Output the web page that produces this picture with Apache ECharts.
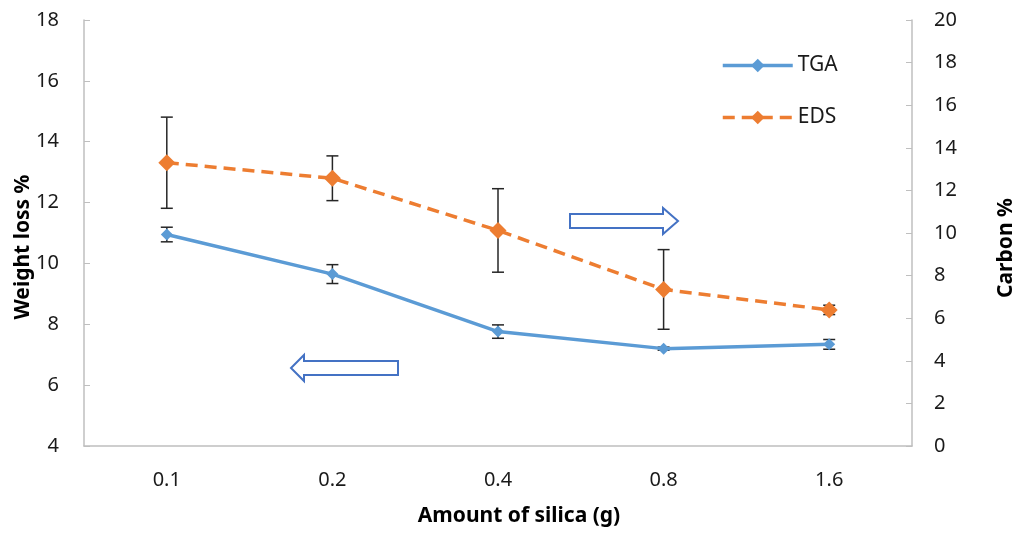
<!DOCTYPE html>
<html>
<head>
<meta charset="utf-8">
<script src="https://cdn.jsdelivr.net/npm/echarts@6/dist/echarts.min.js"></script>
<style>html,body{margin:0;padding:0;background:#fff}#c{width:1016px;height:533px}</style>
</head>
<body>
<div id="c"></div>
<script>
const categories = ['0.1', '0.2', '0.4', '0.8', '1.6'];
const tgaValues = [10.95, 9.65, 7.76, 7.2, 7.34];
const tgaErrors = [0.24, 0.31, 0.22, 0.05, 0.16];
const edsValues = [13.3, 12.57, 10.12, 7.35, 6.39];
const edsErrors = [2.14, 1.05, 1.96, 1.87, 0.22];
const leftTicks = { min: 4, max: 18, interval: 2 };
const rightTicks = { min: 0, max: 20, interval: 2 };

const FONT = 'Noto Sans';
const TXT = '#1a1a1a';
const chart = echarts.init(document.getElementById('c'));

function errorSeries(vals, errs, axisIdx, name) {
  return {
    type: 'custom',
    name: name,
    yAxisIndex: axisIdx,
    z: 1,
    silent: true,
    data: vals.map((v, i) => [i, v - errs[i], v + errs[i]]),
    renderItem: function (params, api) {
      const lo = api.coord([api.value(0), api.value(1)]);
      const hi = api.coord([api.value(0), api.value(2)]);
      const w = 6;
      const st = { stroke: '#262626', lineWidth: 1.5 };
      return {
        type: 'group',
        children: [
          { type: 'line', shape: { x1: lo[0], y1: lo[1], x2: hi[0], y2: hi[1] }, style: st },
          { type: 'line', shape: { x1: lo[0] - w, y1: lo[1], x2: lo[0] + w, y2: lo[1] }, style: st },
          { type: 'line', shape: { x1: hi[0] - w, y1: hi[1], x2: hi[0] + w, y2: hi[1] }, style: st }
        ]
      };
    }
  };
}

const arrowStyle = { fill: '#fff', stroke: '#4472C4', lineWidth: 2 };

chart.setOption({
  animation: false,
  backgroundColor: '#fff',
  textStyle: { fontFamily: FONT },
  grid: { left: 84, right: 104, top: 20, bottom: 87, outerBoundsMode: 'none', containLabel: false },
  legend: {
    orient: 'vertical',
    left: 716,
    top: 50,
    itemWidth: 70,
    itemHeight: 17,
    itemGap: 31,
    lineStyle: { width: 3.5 },
    textStyle: { fontFamily: FONT, fontSize: 21, color: TXT, padding: [0, 0, 0, 0] },
    data: ['TGA', 'EDS']
  },
  xAxis: {
    type: 'category',
    data: categories,
    boundaryGap: true,
    name: 'Amount of silica (g)',
    nameLocation: 'middle',
    nameGap: 60,
    nameTextStyle: { fontFamily: FONT, fontSize: 21, fontWeight: 'bold', color: '#000', padding: [0, 0, 0, 42] },
    axisLine: { lineStyle: { color: '#bfbfbf', width: 1.5 } },
    axisTick: { show: false },
    axisLabel: { fontFamily: FONT, fontSize: 20, color: TXT, margin: 24 },
    splitLine: { show: false }
  },
  yAxis: [
    {
      type: 'value',
      min: leftTicks.min, max: leftTicks.max, interval: leftTicks.interval,
      name: 'Weight loss %',
      nameLocation: 'middle',
      nameGap: 50,
      nameMoveOverlap: false,
      nameRotate: 90,
      nameTextStyle: { fontFamily: FONT, fontSize: 21, fontWeight: 'bold', color: '#000', padding: [0, 28, 0, 0] },
      axisLine: { show: true, lineStyle: { color: '#bfbfbf', width: 1.5 } },
      axisTick: { show: true, inside: true, length: 6, lineStyle: { color: '#bfbfbf' } },
      axisLabel: { fontFamily: FONT, fontSize: 20, color: TXT, margin: 25 },
      splitLine: { show: false }
    },
    {
      type: 'value',
      min: rightTicks.min, max: rightTicks.max, interval: rightTicks.interval,
      position: 'right',
      name: 'Carbon %',
      nameLocation: 'middle',
      nameGap: 84,
      nameRotate: 90,
      nameTextStyle: { fontFamily: FONT, fontSize: 21, fontWeight: 'bold', color: '#000', padding: [0, 30, 0, 0] },
      axisLine: { show: true, lineStyle: { color: '#bfbfbf', width: 1.5 } },
      axisTick: { show: true, inside: true, length: 6, lineStyle: { color: '#bfbfbf' } },
      axisLabel: { fontFamily: FONT, fontSize: 20, color: TXT, margin: 22 },
      splitLine: { show: false }
    }
  ],
  series: [
    {
      name: 'TGA',
      type: 'line',
      yAxisIndex: 0,
      data: tgaValues,
      z: 3,
      symbol: 'diamond',
      symbolSize: 12,
      itemStyle: { color: '#5B9BD5' },
      lineStyle: { color: '#5B9BD5', width: 3.5 }
    },
    {
      name: 'EDS',
      type: 'line',
      yAxisIndex: 1,
      data: edsValues,
      z: 3,
      symbol: 'diamond',
      symbolSize: 17,
      itemStyle: { color: '#ED7D31' },
      lineStyle: { color: '#ED7D31', width: 3.5, type: [12, 7] }
    },
    errorSeries(tgaValues, tgaErrors, 0, 'TGA err'),
    errorSeries(edsValues, edsErrors, 1, 'EDS err')
  ],
  graphic: [
    {
      type: 'polygon',
      shape: { points: [[570, 214], [663, 214], [663, 208], [678, 221], [663, 234], [663, 228], [570, 228]] },
      style: arrowStyle
    },
    {
      type: 'polygon',
      shape: { points: [[398, 361], [304, 361], [304, 355], [291, 368], [304, 381], [304, 375], [398, 375]] },
      style: arrowStyle
    }
  ]
});
</script>
</body>
</html>
